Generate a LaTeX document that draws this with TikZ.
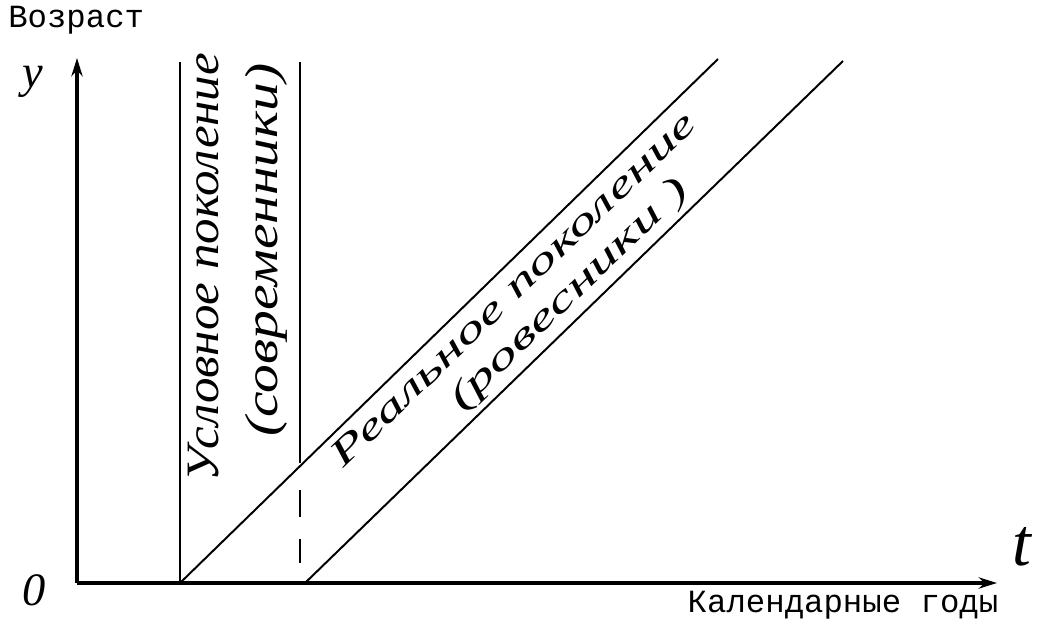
\documentclass[tikz,border=0pt]{standalone}
\usepackage{fontspec}
\usepackage{graphicx}
\newfontfamily\twfont{Liberation Mono}
\newfontfamily\handfont{Liberation Serif}
\usetikzlibrary{arrows.meta}

\begin{document}
\begin{tikzpicture}[x=0.025cm, y=-0.025cm, every node/.style={inner sep=0pt}, axis/.style={line width=2.2pt,-{Stealth[length=13pt,width=8pt]}}, bound/.style={line width=1.1pt}, cohort/.style={line width=1.4pt}, tw/.style={font=\twfont\fontsize{23}{26}\selectfont}, hand/.style={font=\handfont\itshape\fontsize{33}{40}\selectfont}, diag/.style={font=\handfont\itshape\fontsize{26}{30}\selectfont,rotate=44}]
\useasboundingbox (0,0) rectangle (1040,633);
% axes
\coordinate (O) at (77,583);
\coordinate (ytip) at (77,58);
\coordinate (xtip) at (997,583);
\draw[axis] (O)--(ytip);
\draw[axis] (O)--(xtip);
\node[tw,anchor=west] (age) at (8,20) {Возраст};
\node[tw] (years) at (843,605) {Календарные годы};
\node[hand] (ylab) at (33,82) {y};
\node[hand] (zero) at (34,590) {0};
\node[hand,font=\handfont\itshape\fontsize{48}{50}\selectfont] (tlab) at (1022,547) {t};
% conditional generation
\coordinate (a0) at (180,583); \coordinate (a1) at (180,62);
\coordinate (b1) at (300,62); \coordinate (b0) at (300,463);
\coordinate (b2) at (300,490); \coordinate (b3) at (300,563);
\draw[bound] (a0)--(a1);
\draw[bound] (b1)--(b0);
\draw[bound,dash pattern=on 19pt off 16pt] (b2)--(b3);
\node[hand,rotate=90] (usl) at (204,267) {\scalebox{1.1}[1]{Условное поколение}};
\node[hand,rotate=90] (sovr) at (266,250) {\scalebox{1.24}[1]{(современники)}};
% real generation
\coordinate (c1) at (718,59); \coordinate (d0) at (305,583); \coordinate (d1) at (843,61);
\draw[cohort] (a0)--(c1);
\draw[cohort] (d0)--(d1);
\node[diag] (real) at (513,289) {\scalebox{1.62}[1]{Реальное поколение}};
\node[diag] (rov) at (570,295) {\scalebox{1.67}[1]{(ровесники )}};
\end{tikzpicture}
\end{document}
